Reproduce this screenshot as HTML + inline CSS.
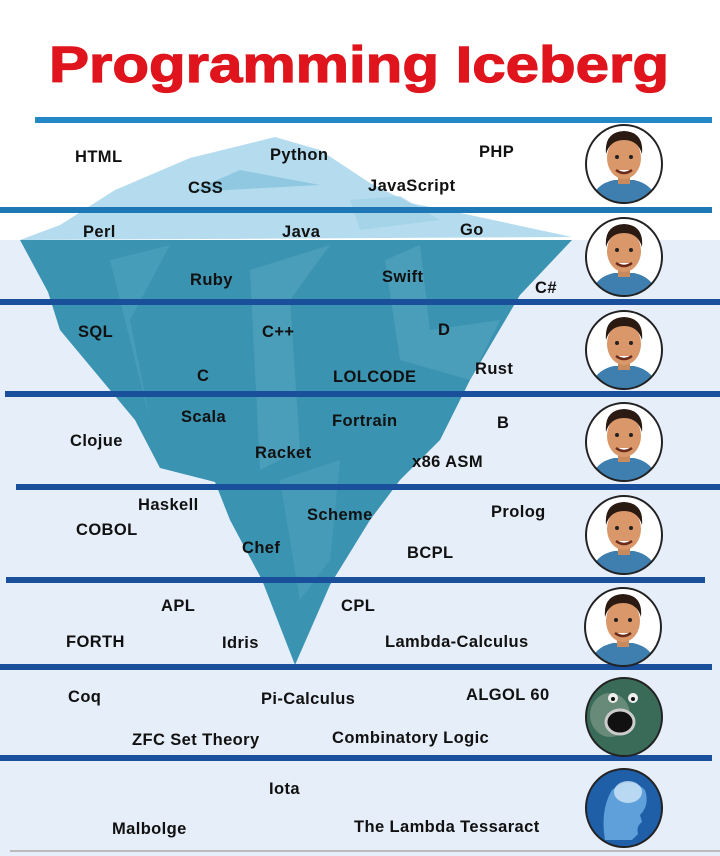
<!DOCTYPE html>
<html><head><meta charset="utf-8"><style>
html,body{margin:0;padding:0;background:#fff}
svg{display:block}
text{font-family:"Liberation Sans",Arial,sans-serif;font-weight:bold;fill:#111}
.l text{font-size:16.5px;letter-spacing:0.4px}
</style></head><body>
<svg width="720" height="856" viewBox="0 0 720 856" xmlns="http://www.w3.org/2000/svg">
<defs>
<g id="face">
 <clipPath id="cc"><ellipse cx="0" cy="0" rx="38" ry="39"/></clipPath>
 <ellipse cx="0" cy="0" rx="38" ry="39" fill="#fff"/>
 <g clip-path="url(#cc)">
  <path d="M-34 40 Q-30 20 -10 16 L10 16 Q30 20 34 40 Z" fill="#3e7fb0"/>
  <rect x="-6" y="8" width="12" height="12" fill="#c98a5e"/>
  <ellipse cx="0" cy="-6" rx="17" ry="21" fill="#d9976a"/>
  <path d="M-18 -10 Q-20 -32 0 -33 Q20 -32 18 -10 Q14 -24 0 -24 Q-14 -24 -18 -10Z" fill="#2a1a12"/>
  <circle cx="-7" cy="-7" r="2" fill="#222"/><circle cx="7" cy="-7" r="2" fill="#222"/>
  <path d="M-8 6 Q0 12 8 6" stroke="#6a2a1a" stroke-width="2.5" fill="#fff"/>
 </g>
 <ellipse cx="0" cy="0" rx="38" ry="39" fill="none" stroke="#222" stroke-width="2"/>
</g>
</defs>
<rect width="720" height="856" fill="#fff"/>
<rect x="0" y="240" width="720" height="616" fill="#e6eef9"/>
<text x="359" y="82" text-anchor="middle" style="font-size:51px;fill:#e0141c;stroke:#e0141c;stroke-width:1.2" textLength="620" lengthAdjust="spacingAndGlyphs">Programming Iceberg</text>

<polygon points="20,240 60,225 115,190 190,158 275,137 320,150 370,183 410,203 470,215 572,237 20,240" fill="#b4dcee"/>
<polygon points="190,192 240,170 320,185" fill="#8fc8e0"/>
<polygon points="350,200 400,196 440,220 360,230" fill="#9ed0e6" opacity=".7"/>
<polygon points="20,240 572,240 520,295 470,380 440,440 400,480 370,520 330,585 295,665 262,580 230,520 215,482 160,468 135,420 60,330 48,292" fill="#3a93b1"/>
<polygon points="110,260 170,245 130,320 150,420" fill="#4ea3bf" opacity=".6"/>
<polygon points="250,270 330,245 290,300 300,450 260,470" fill="#5aaac4" opacity=".5"/>
<polygon points="385,260 420,245 430,330 500,320 470,380 400,360" fill="#5aaac4" opacity=".5"/>
<polygon points="280,480 340,460 330,560 300,600" fill="#5aaac4" opacity=".4"/>

<rect x="35" y="117" width="677" height="6" fill="#2488c6"/>
<rect x="0" y="207" width="712" height="6" fill="#1f78b6"/>
<rect x="0" y="299" width="720" height="6" fill="#1a4f9c"/>
<rect x="5" y="391" width="715" height="6" fill="#1a4f9c"/>
<rect x="16" y="484" width="704" height="6" fill="#1a4f9c"/>
<rect x="6" y="577" width="699" height="6" fill="#1a4f9c"/>
<rect x="0" y="664" width="712" height="6" fill="#1a4f9c"/>
<rect x="0" y="755" width="712" height="6" fill="#1a4f9c"/>
<rect x="10" y="850" width="710" height="2" fill="#bbb"/>

<g class="l">
<text x="75" y="162">HTML</text><text x="270" y="160">Python</text><text x="479" y="157">PHP</text>
<text x="188" y="193">CSS</text><text x="368" y="191">JavaScript</text>
<text x="83" y="237">Perl</text><text x="282" y="237">Java</text><text x="460" y="235">Go</text>
<text x="190" y="285">Ruby</text><text x="382" y="282">Swift</text><text x="535" y="293">C#</text>
<text x="78" y="337">SQL</text><text x="262" y="337">C++</text><text x="438" y="335">D</text>
<text x="197" y="381">C</text><text x="333" y="382">LOLCODE</text><text x="475" y="374">Rust</text>
<text x="181" y="422">Scala</text><text x="332" y="426">Fortrain</text><text x="497" y="428">B</text>
<text x="70" y="446">Clojue</text><text x="255" y="458">Racket</text><text x="412" y="467">x86 ASM</text>
<text x="138" y="510">Haskell</text><text x="307" y="520">Scheme</text><text x="491" y="517">Prolog</text>
<text x="76" y="535">COBOL</text><text x="242" y="553">Chef</text><text x="407" y="558">BCPL</text>
<text x="161" y="611">APL</text><text x="341" y="611">CPL</text>
<text x="66" y="647">FORTH</text><text x="222" y="648">Idris</text><text x="385" y="647">Lambda-Calculus</text>
<text x="68" y="702">Coq</text><text x="261" y="704">Pi-Calculus</text><text x="466" y="700">ALGOL 60</text>
<text x="132" y="745">ZFC Set Theory</text><text x="332" y="743">Combinatory Logic</text>
<text x="269" y="794">Iota</text>
<text x="112" y="834">Malbolge</text><text x="354" y="832">The Lambda Tessaract</text>
</g>

<use href="#face" x="624" y="164"/>
<use href="#face" x="624" y="257"/>
<use href="#face" x="624" y="350"/>
<use href="#face" x="624" y="442"/>
<use href="#face" x="624" y="535"/>
<use href="#face" x="623" y="627"/>
<ellipse cx="624" cy="717" rx="38" ry="39" fill="#3a6a58" stroke="#222" stroke-width="2"/>
<ellipse cx="610" cy="715" rx="20" ry="22" fill="#7a9a86" opacity=".7"/>
<circle cx="613" cy="698" r="5" fill="#eee"/><circle cx="633" cy="698" r="5" fill="#eee"/>
<circle cx="613" cy="699" r="2" fill="#111"/><circle cx="633" cy="699" r="2" fill="#111"/>
<ellipse cx="620" cy="722" rx="14" ry="12" fill="#111" stroke="#ccc" stroke-width="3"/>
<ellipse cx="624" cy="808" rx="38" ry="39" fill="#1e5fa8" stroke="#222" stroke-width="2"/>
<path d="M605 840 Q600 810 612 790 Q630 775 645 790 Q650 805 640 815 L642 822 Q636 826 638 834 L632 840Z" fill="#6fb0e6" opacity=".8"/>
<ellipse cx="628" cy="792" rx="14" ry="11" fill="#cfe6f7" opacity=".8"/>
</svg>
</body></html>
